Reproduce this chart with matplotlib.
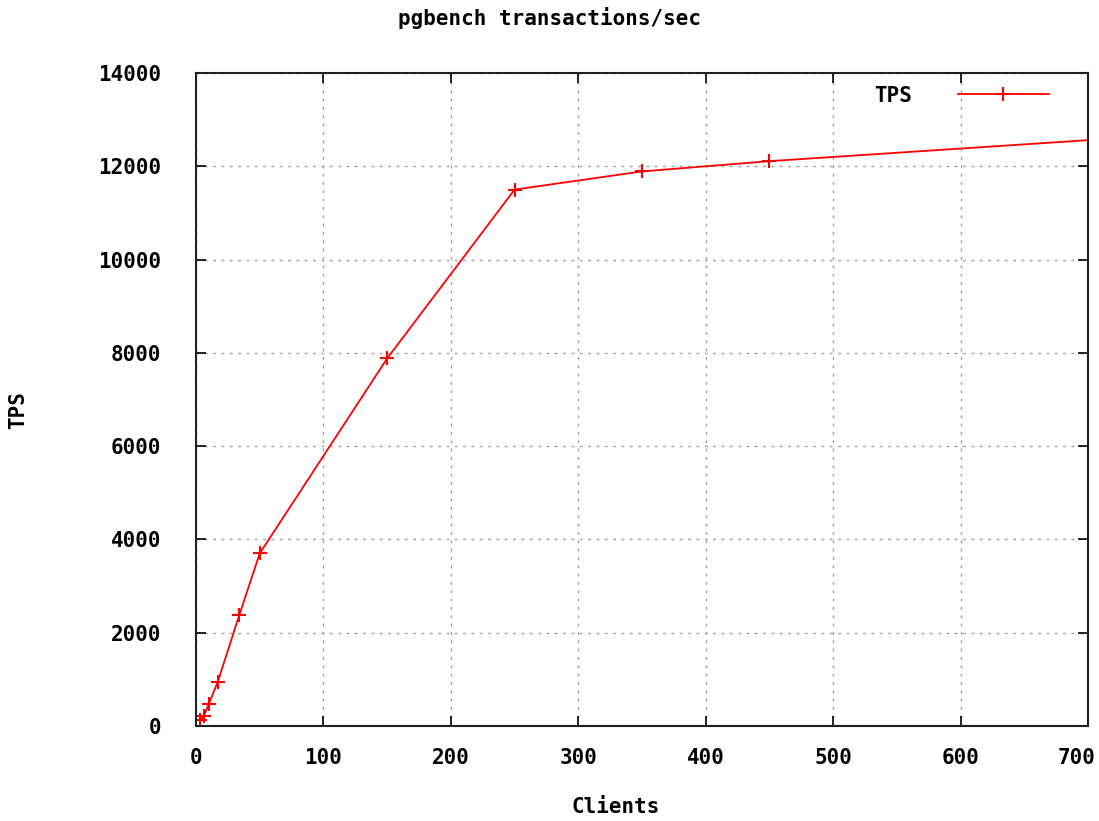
import matplotlib
matplotlib.use("Agg")
import matplotlib.pyplot as plt
from matplotlib.transforms import ScaledTranslation

clients = [3, 6, 10, 17, 34, 50, 150, 250, 350, 450, 850]
tps = [130, 210, 470, 940, 2380, 3700, 7880, 11500, 11890, 12110, 12830]
xticks = [0, 100, 200, 300, 400, 500, 600, 700]
yticks = [0, 2000, 4000, 6000, 8000, 10000, 12000, 14000]

FONT = "DejaVu Sans Mono"
FS = 15
W, H = 1099, 821

fig = plt.figure(figsize=(W / 100, H / 100), dpi=100)
ax = fig.add_axes([196 / W, 1 - 726 / H, (1088 - 196) / W, (726 - 73) / H])

ax.plot(clients, tps, color="#ff0000", lw=1.3, marker="+", ms=10, mew=1.5, label="TPS", clip_on=True)

ax.set_xlim(0, 700)
ax.set_ylim(0, 14000)
ax.set_xticks(xticks)
ax.set_yticks(yticks)
ax.set_xticklabels([str(v) for v in xticks], fontfamily=FONT, fontweight="bold", fontsize=FS)
ax.set_yticklabels([str(v) for v in yticks], fontfamily=FONT, fontweight="bold", fontsize=FS)
ax.tick_params(direction="in", length=7, width=1.2, top=True, right=True, color="black")
ax.tick_params(axis="x", pad=16)
ax.tick_params(axis="y", pad=25)

last = ax.get_xticklabels()[-1]
last.set_transform(last.get_transform() + ScaledTranslation(-11 / 100, 0, fig.dpi_scale_trans))

ax.grid(True, color="#a0a0a0", linestyle=(0, (2, 4)), linewidth=1.0)
for s in ax.spines.values():
    s.set_linewidth(1.5)
    s.set_color("#202020")

fig.text(0.5, 1 - 25 / H, "pgbench transactions/sec", ha="center", va="baseline",
         fontfamily=FONT, fontweight="bold", fontsize=FS)
fig.text(616 / W, 1 - 813 / H, "Clients", ha="center", va="baseline",
         fontfamily=FONT, fontweight="bold", fontsize=FS)
fig.text(18 / W, 1 - 410 / H, "TPS", ha="center", va="center", rotation=90,
         fontfamily=FONT, fontweight="bold", fontsize=FS)

leg = ax.legend(loc="upper right", bbox_to_anchor=(1 - 20 / 892, 1 + 6 / 653), frameon=False,
                markerfirst=False, handlelength=4.4, handletextpad=2.2,
                prop={"family": FONT, "weight": "bold", "size": FS})

fig.savefig("out.png", dpi=100)
